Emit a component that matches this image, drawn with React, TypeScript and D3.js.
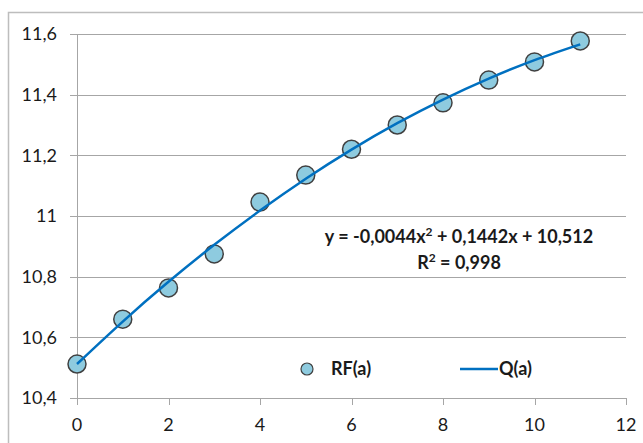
import React from "react";
import * as d3 from "d3";

const xValues = [0, 1, 2, 3, 4, 5, 6, 7, 8, 9, 10, 11];
const rfValues = [10.512, 10.66, 10.763, 10.875, 11.046, 11.135, 11.22, 11.3, 11.373, 11.448, 11.508, 11.577];
const qValues = [10.512, 10.652, 10.783, 10.905, 11.018, 11.123, 11.219, 11.306, 11.384, 11.453, 11.514, 11.566];
const xTicks = [0, 2, 4, 6, 8, 10, 12];
const yTicks = [10.4, 10.6, 10.8, 11, 11.2, 11.4, 11.6];
const equationLines = ["y = -0,0044x", "R", " = 0,998"];
const legendLabels = ["RF(a)", "Q(a)"];

const W = 643;
const H = 443;
const font = "Lato, 'Open Sans', sans-serif";

export default function App() {
  const x = d3.scaleLinear().domain([0, 12]).range([77, 626]);
  const y = d3.scaleLinear().domain([10.4, 11.6]).range([398, 34]);
  const line = d3
    .line<number>()
    .x((_, i) => x(xValues[i]))
    .y((d) => y(d))
    .curve(d3.curveNatural);
  const fmt = (v: number) => d3.format("")(+v.toFixed(1)).replace(".", ",");

  return (
    <div style={{ position: "fixed", left: 0, top: 0 }}>
      <svg width={W} height={H} style={{ display: "block", background: "#fff" }}>
        <rect x={8.5} y={12.5} width={660} height={460} fill="#fff" stroke="#bdbdbd" strokeWidth={1.5} />
        {yTicks.map((t) => (
          <g key={t}>
            <line x1={70} x2={x(12)} y1={Math.round(y(t)) + 0.5} y2={Math.round(y(t)) + 0.5} stroke="#a6a6a6" strokeWidth={1} />
            <text x={57} y={y(t)} dy="0.35em" textAnchor="end" fontFamily={font} fontSize={18} fill="#1a1a1a">
              {fmt(t)}
            </text>
          </g>
        ))}
        <line x1={77.5} x2={77.5} y1={y(11.6)} y2={y(10.4)} stroke="#a6a6a6" strokeWidth={1} />
        {xTicks.map((t) => (
          <g key={t}>
            <line x1={Math.round(x(t)) + 0.5} x2={Math.round(x(t)) + 0.5} y1={398} y2={405} stroke="#a6a6a6" strokeWidth={1} />
            <text x={x(t)} y={425} dy="0.35em" textAnchor="middle" fontFamily={font} fontSize={18} fill="#1a1a1a">
              {t}
            </text>
          </g>
        ))}
        {rfValues.map((v, i) => (
          <circle key={i} cx={x(xValues[i])} cy={y(v)} r={9} fill="#8ecbdf" stroke="#404040" strokeWidth={1.5} />
        ))}
        <path d={line(qValues) || ""} fill="none" stroke="#0070c0" strokeWidth={2.5} />
        <text x={459} y={237} dy="0.35em" textAnchor="middle" fontFamily={font} fontSize={18} fontWeight="bold" fill="#1a1a1a">
          {equationLines[0]}
          <tspan dy="-7" fontSize={12}>2</tspan>
          <tspan dy="7">{" + 0,1442x + 10,512"}</tspan>
        </text>
        <text x={459} y={263} dy="0.35em" textAnchor="middle" fontFamily={font} fontSize={18} fontWeight="bold" fill="#1a1a1a">
          {equationLines[1]}
          <tspan dy="-7" fontSize={12}>2</tspan>
          <tspan dy="7">{equationLines[2]}</tspan>
        </text>
        <circle cx={307} cy={369} r={6} fill="#8ecbdf" stroke="#404040" strokeWidth={1.2} />
        <text x={331} y={369} dy="0.35em" fontFamily={font} fontSize={18} fontWeight="bold" fill="#1a1a1a">
          {legendLabels[0]}
        </text>
        <line x1={460} x2={498} y1={369} y2={369} stroke="#0070c0" strokeWidth={2.5} />
        <text x={499} y={369} dy="0.35em" fontFamily={font} fontSize={18} fontWeight="bold" fill="#1a1a1a">
          {legendLabels[1]}
        </text>
      </svg>
    </div>
  );
}
